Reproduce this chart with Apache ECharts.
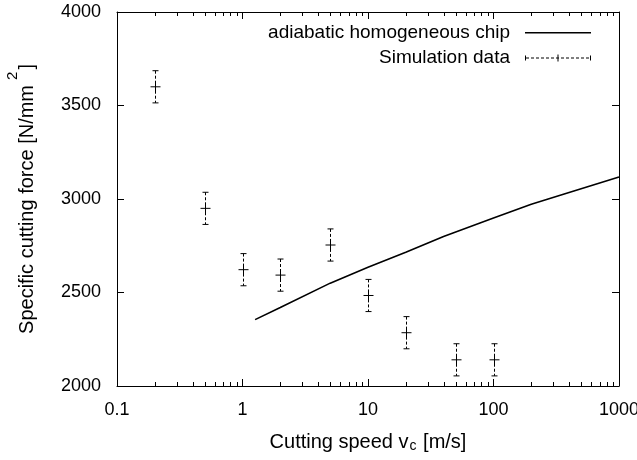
<!DOCTYPE html>
<html>
<head>
<meta charset="utf-8">
<script src="https://cdn.jsdelivr.net/npm/echarts@6/dist/echarts.min.js"></script>
<style>html,body{margin:0;padding:0;background:#fff;}#c{width:637px;height:460px;}</style>
</head>
<body>
<div id="c"></div>
<script>
// ---- data ----
const xTickValues = [0.1, 1, 10, 100, 1000];
const xMinorTicks = [0.2,0.3,0.4,0.5,0.6,0.7,0.8,0.9, 2,3,4,5,6,7,8,9, 20,30,40,50,60,70,80,90, 200,300,400,500,600,700,800,900];
const yTicks = [2000, 2500, 3000, 3500, 4000];

const curveX = [1.26, 2, 5, 10, 20, 40, 100, 200, 400, 1000];
const curveY = [2355, 2420, 2550, 2635, 2715, 2800, 2898, 2972, 3035, 3118];

const simX = [0.2, 0.5, 1, 2, 5, 10, 20, 50, 100];
const simY = [3600, 2950, 2622, 2593, 2754, 2484, 2285, 2140, 2140];
const simErr = [86, 86, 86, 86, 86, 86, 86, 86, 86];

const FONT = "'Liberation Sans', Arial, Helvetica, sans-serif";

// ---- build ----
const curveData = curveX.map((x, i) => [x, curveY[i]]);
const simData = simX.map((x, i) => [x, simY[i], simErr[i]]);
const minorData = xMinorTicks.map(v => [v]);

function errRender(params, api) {
  const x = api.value(0), y = api.value(1), e = api.value(2);
  const c = api.coord([x, y]);
  const hi = api.coord([x, y + e]);
  const lo = api.coord([x, y - e]);
  const cx = Math.round(c[0]) + 0.5;
  const s = {stroke: '#000', lineWidth: 1};
  return {type: 'group', children: [
    {type: 'line', shape: {x1: cx, y1: hi[1], x2: cx, y2: lo[1]}, style: {stroke: '#000', lineWidth: 1, lineDash: [3, 2]}},
    {type: 'line', shape: {x1: cx - 3, y1: hi[1], x2: cx + 3, y2: hi[1]}, style: s},
    {type: 'line', shape: {x1: cx - 3, y1: lo[1], x2: cx + 3, y2: lo[1]}, style: s},
    {type: 'line', shape: {x1: cx - 5, y1: c[1], x2: cx + 5, y2: c[1]}, style: s},
    {type: 'line', shape: {x1: cx, y1: c[1] - 5, x2: cx, y2: c[1] + 5}, style: s}
  ]};
}

function minorRender(params, api) {
  const v = api.value(0);
  const b = api.coord([v, yTicks[0]]);
  const t = api.coord([v, yTicks[yTicks.length - 1]]);
  const x = Math.round(b[0]) + 0.5;
  const s = {stroke: '#000', lineWidth: 1};
  return {type: 'group', children: [
    {type: 'line', shape: {x1: x, y1: b[1], x2: x, y2: b[1] - 4}, style: s},
    {type: 'line', shape: {x1: x, y1: t[1], x2: x, y2: t[1] + 4}, style: s}
  ]};
}

// legend icons (style only)
const pad = 'M0,0h0.01v0.01h-0.01z M0,8h0.01v-0.01h-0.01z ';
const lineIcon = 'path://' + pad + 'M0,3.6h66v1.4h-66z';
let simIconPath = pad + 'M0,2h1v5h-1z M65,2h1v5h-1z M32.5,1h1v7h-1z ';
for (let x = 1; x < 65; x += 5) {
  const w = Math.min(3, 65 - x);
  simIconPath += 'M' + x + ',4h' + w + 'v1h-' + w + 'z ';
}
const simIcon = 'path://' + simIconPath;

const axisCommon = {
  axisLine: {show: true, onZero: false, lineStyle: {color: '#000', width: 1}},
  axisTick: {show: true, inside: true, length: 7, lineStyle: {color: '#000', width: 1}},
  splitLine: {show: false},
  minorTick: {show: false}
};

const option = {
  animation: false,
  backgroundColor: '#fff',
  textStyle: {fontFamily: FONT},
  grid: {left: 117, right: 18, top: 12, bottom: 74, containLabel: false, outerBoundsMode: 'none'},
  legend: [
    {
      data: [{name: 'adiabatic homogeneous chip', icon: lineIcon}],
      right: 41, top: 18, align: 'right', itemWidth: 66, itemHeight: 8,
      textStyle: {fontSize: 19, color: '#000', fontFamily: FONT, padding: [0, 10, 0, 0]},
      selectedMode: false
    },
    {
      data: [{name: 'Simulation data', icon: simIcon}],
      right: 41, top: 43, align: 'right', itemWidth: 66, itemHeight: 8,
      textStyle: {fontSize: 19, color: '#000', fontFamily: FONT, padding: [0, 10, 0, 0]},
      selectedMode: false
    }
  ],
  xAxis: [
    Object.assign({}, axisCommon, {
      type: 'log', logBase: 10, min: xTickValues[0], max: xTickValues[xTickValues.length - 1],
      position: 'bottom',
      axisLabel: {show: true, fontSize: 18, color: '#000', fontFamily: FONT, margin: 15,
        formatter: v => String(+Number(v).toPrecision(6))},
      name: '{a|Cutting speed v}{b|c}{a| [m/s]}',
      nameLocation: 'middle', nameGap: 45,
      nameTextStyle: {fontFamily: FONT, color: '#000', fontSize: 20,
        rich: {a: {fontSize: 20, fontFamily: FONT, color: '#000'},
               b: {fontSize: 14, fontFamily: FONT, color: '#000', padding: [8, 1, 0, 1]}}}
    }),
    Object.assign({}, axisCommon, {
      type: 'log', logBase: 10, min: xTickValues[0], max: xTickValues[xTickValues.length - 1],
      position: 'top', axisLabel: {show: false}
    })
  ],
  yAxis: [
    Object.assign({}, axisCommon, {
      type: 'value', min: yTicks[0], max: yTicks[yTicks.length - 1], interval: 500,
      position: 'left',
      axisLabel: {show: true, fontSize: 18, color: '#000', fontFamily: FONT, margin: 16,
        formatter: v => String(v)},
      name: '{a|Specific cutting force [N/mm}{s|2}{a|]}',
      nameLocation: 'middle', nameGap: 67,
      nameTextStyle: {fontFamily: FONT, color: '#000', fontSize: 20,
        rich: {a: {fontSize: 20, fontFamily: FONT, color: '#000'},
               s: {fontSize: 15, fontFamily: FONT, color: '#000', padding: [0, 2, 30, 5]}}}
    }),
    Object.assign({}, axisCommon, {
      type: 'value', min: yTicks[0], max: yTicks[yTicks.length - 1], interval: 500,
      position: 'right', axisLabel: {show: false}
    })
  ],
  series: [
    {
      name: 'adiabatic homogeneous chip', type: 'line', data: curveData,
      xAxisIndex: 0, yAxisIndex: 0, symbol: 'none', smooth: false,
      lineStyle: {color: '#000', width: 1.6}, itemStyle: {color: '#000'}, z: 3
    },
    {
      name: 'Simulation data', type: 'custom', data: simData,
      xAxisIndex: 0, yAxisIndex: 0, renderItem: errRender,
      itemStyle: {color: '#000'}, encode: {x: 0, y: 1}, z: 4
    },
    {
      name: 'minor', type: 'custom', data: minorData,
      xAxisIndex: 0, yAxisIndex: 0, renderItem: minorRender, silent: true,
      encode: {x: 0}, clip: false, z: 5
    }
  ]
};

const chart = echarts.init(document.getElementById('c'), null, {renderer: 'canvas'});
chart.setOption(option);
</script>
</body>
</html>
